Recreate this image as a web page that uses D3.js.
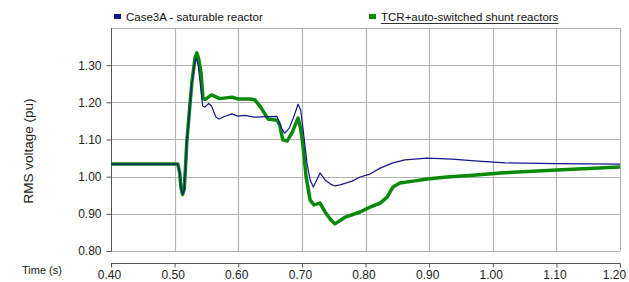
<!DOCTYPE html>
<html><head><meta charset="utf-8">
<script src="https://cdn.jsdelivr.net/npm/d3@7"></script>
<style>html,body{margin:0;padding:0;background:#fff;}svg{display:block;font-family:Arial,"Liberation Sans",sans-serif;}</style>
</head><body>
<svg id="c" width="629" height="282"></svg>
<script>
const seriesNames = ["Case3A - saturable reactor", "TCR+auto-switched shunt reactors"];
const seriesColors = ["#16168c", "#078a07"];
const xTicks = [0.40,0.50,0.60,0.70,0.80,0.90,1.00,1.10,1.20];
const yTicks = [0.80,0.90,1.00,1.10,1.20,1.30];
const blueT = [0.40,0.505,0.508,0.510,0.5125,0.515,0.517,0.519,0.521,0.527,0.532,0.534,0.537,0.541,0.544,0.5475,0.5535,0.558,0.565,0.570,0.578,0.590,0.599,0.610,0.625,0.661,0.668,0.673,0.680,0.687,0.694,0.698,0.702,0.708,0.713,0.718,0.723,0.7286,0.7365,0.745,0.752,0.760,0.779,0.7915,0.807,0.823,0.843,0.862,0.897,0.936,0.977,1.02,1.10,1.20];
const blueV = [1.034,1.034,1.01,0.97,0.952,0.965,1.02,1.09,1.13,1.25,1.31,1.319,1.30,1.24,1.19,1.187,1.197,1.19,1.16,1.155,1.162,1.169,1.163,1.165,1.160,1.162,1.13,1.117,1.13,1.16,1.195,1.18,1.126,1.037,0.991,0.972,0.99,1.010,0.991,0.980,0.975,0.978,0.988,0.999,1.007,1.023,1.037,1.045,1.050,1.047,1.042,1.037,1.035,1.034];
const greenT = [0.40,0.505,0.508,0.510,0.5125,0.515,0.517,0.519,0.521,0.527,0.532,0.535,0.538,0.5415,0.5446,0.548,0.558,0.571,0.590,0.600,0.618,0.626,0.636,0.647,0.661,0.665,0.670,0.677,0.685,0.694,0.698,0.702,0.7066,0.713,0.719,0.7286,0.7365,0.745,0.752,0.768,0.7915,0.807,0.823,0.834,0.843,0.854,0.875,0.897,0.928,0.969,1.0115,1.101,1.20];
const greenV = [1.034,1.034,1.01,0.97,0.952,0.965,1.02,1.09,1.131,1.252,1.319,1.333,1.315,1.28,1.21,1.208,1.22,1.21,1.214,1.209,1.209,1.207,1.185,1.155,1.152,1.14,1.099,1.096,1.12,1.158,1.13,1.08,1.00,0.937,0.924,0.929,0.905,0.885,0.873,0.891,0.905,0.918,0.929,0.945,0.972,0.983,0.988,0.994,0.999,1.004,1.01,1.018,1.026];

const svg = d3.select("#c");
const x = d3.scaleLinear().domain([0.40,1.20]).range([111,620]);
const y = d3.scaleLinear().domain([0.80,1.40]).range([251,28]);
const fmt = d3.format(".2f");

// gridlines
const g = svg.append("g");
g.selectAll("line.vx").data(xTicks.slice(1)).enter().append("line")
  .attr("x1",d=>Math.round(x(d))+0.5).attr("x2",d=>Math.round(x(d))+0.5)
  .attr("y1",28).attr("y2",251).attr("stroke","#b4b4b4").attr("stroke-width",1.2);
g.selectAll("line.hy").data(yTicks.slice(1).concat([1.40])).enter().append("line")
  .attr("x1",111).attr("x2",620)
  .attr("y1",d=>Math.round(y(d))+0.5).attr("y2",d=>Math.round(y(d))+0.5).attr("stroke","#b4b4b4").attr("stroke-width",1.2);
g.append("line").attr("x1",111).attr("x2",620).attr("y1",251.5).attr("y2",251.5).attr("stroke","#b4b4b4").attr("stroke-width",1.2);

// y axis
const yAxis = d3.axisLeft(y).tickValues(yTicks).tickFormat(fmt).tickSize(5).tickPadding(5);
const ya = svg.append("g").attr("transform","translate(111.5,0)").call(yAxis);
ya.select(".domain").attr("stroke","#555").attr("d","M0,28V251");
ya.selectAll(".tick line").attr("stroke","#555");
ya.selectAll("text").attr("font-size",12).attr("fill","#222").attr("font-family","Arial, 'Liberation Sans', sans-serif");

// x axis
const xAxis = d3.axisBottom(x).tickValues(xTicks).tickFormat(fmt).tickSize(4).tickPadding(3);
const xa = svg.append("g").attr("transform","translate(0,263.5)").call(xAxis);
xa.select(".domain").attr("stroke","#555").attr("d","M111,0H620");
xa.selectAll(".tick line").attr("stroke","#555");
xa.selectAll("text").attr("font-size",12).attr("fill","#222").attr("font-family","Arial, 'Liberation Sans', sans-serif")
  .attr("dx", (d,i)=> i===xTicks.length-1 ? -6 : -2);

svg.append("text").attr("x",22).attr("y",274).attr("font-size",11).attr("fill","#222").text("Time (s)");
svg.append("text").attr("transform","translate(33,151) rotate(-90)").attr("text-anchor","middle")
  .attr("font-size",13.5).attr("fill","#222").text("RMS voltage (pu)");

// lines
const line = d3.line().x(d=>x(d[0])).y(d=>y(d[1]));
const greenData = greenT.map((t,i)=>[t,greenV[i]]);
const blueData = blueT.map((t,i)=>[t,blueV[i]]);
svg.append("path").datum(greenData).attr("d",line).attr("fill","none").attr("stroke",seriesColors[1]).attr("stroke-width",3.5).attr("stroke-linejoin","round");
svg.append("path").datum(blueData).attr("d",line).attr("fill","none").attr("stroke",seriesColors[0]).attr("stroke-width",1.2).attr("stroke-linejoin","round");

// legend
const leg = [{x:114, name:seriesNames[0], color:seriesColors[0], u:false},{x:369, name:seriesNames[1], color:seriesColors[1], u:true}];
leg.forEach(l=>{
  svg.append("rect").attr("x",l.x).attr("y",14).attr("width",7).attr("height",5).attr("fill",l.color);
  const t = svg.append("text").attr("x",l.x+12).attr("y",21).attr("font-size",11.5).attr("fill","#111").text(l.name);
  if(l.u){
    const w = t.node().getComputedTextLength();
    svg.append("line").attr("x1",l.x+12).attr("x2",l.x+12+w).attr("y1",23.5).attr("y2",23.5).attr("stroke","#333").attr("stroke-width",1);
  }
});
</script>
</body></html>
